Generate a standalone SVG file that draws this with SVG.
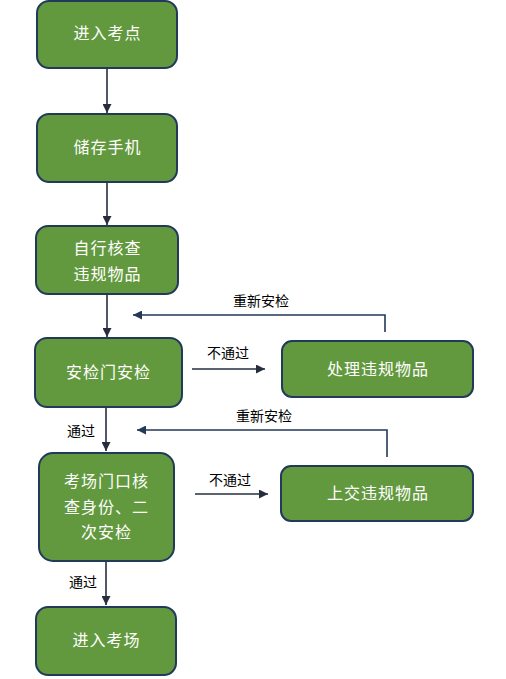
<svg xmlns="http://www.w3.org/2000/svg" width="506" height="679" viewBox="0 0 506 679">
<style>
.n{fill:#62993E;stroke:#22395A;stroke-width:2}
.t{font-family:"Noto Sans CJK SC","Liberation Sans",sans-serif;font-size:16px;letter-spacing:1px;fill:#ffffff;text-anchor:middle}
.l{font-family:"Noto Sans CJK SC","Liberation Sans",sans-serif;font-size:14px;fill:#000000;text-anchor:middle}
.c{fill:none;stroke:#262E3E;stroke-width:1.6}
.b{fill:none;stroke:#22395A;stroke-width:1.6}
</style>
<defs>
<marker id="a" viewBox="0 0 10 10" refX="10" refY="5" markerWidth="9" markerHeight="9" markerUnits="userSpaceOnUse" orient="auto">
<path d="M0,0 L10,5 L0,10 Z" fill="#262E3E"/>
</marker>
<marker id="ab" viewBox="0 0 10 10" refX="10" refY="5" markerWidth="9" markerHeight="9" markerUnits="userSpaceOnUse" orient="auto">
<path d="M0,0 L10,5 L0,10 Z" fill="#22395A"/>
</marker>
</defs>
<g id="connectors">
<line class="c" x1="107" y1="68" x2="107" y2="113" marker-end="url(#a)"/>
<line class="c" x1="107" y1="182" x2="107" y2="225" marker-end="url(#a)"/>
<line class="c" x1="107" y1="294" x2="107" y2="337" marker-end="url(#a)"/>
<line class="c" x1="192" y1="369" x2="265" y2="369" marker-end="url(#a)"/>
<polyline class="b" points="385,332 385,315 133,315" marker-end="url(#ab)"/>
<line class="c" x1="106" y1="407" x2="106" y2="451" marker-end="url(#a)"/>
<line class="c" x1="195" y1="494" x2="268" y2="494" marker-end="url(#a)"/>
<polyline class="b" points="387,457 387,430 137,430" marker-end="url(#ab)"/>
<line class="c" x1="106" y1="561" x2="106" y2="605" marker-end="url(#a)"/>
<text class="l" x="261" y="306">重新安检</text>
<text class="l" x="228" y="358">不通过</text>
<text class="l" x="81" y="436">通过</text>
<text class="l" x="264" y="421">重新安检</text>
<text class="l" x="230" y="485">不通过</text>
<text class="l" x="83" y="587">通过</text>
</g>
<g id="n1"><rect class="n" x="37" y="1" width="140" height="67" rx="12"/><text class="t" x="107.5" y="39">进入考点</text></g>
<g id="n2"><rect class="n" x="37" y="114" width="140" height="68" rx="12"/><text class="t" x="107.5" y="153">储存手机</text></g>
<g id="n3"><rect class="n" x="36" y="226" width="142" height="68" rx="12"/><text class="t" x="107.5" y="254">自行核查</text><text class="t" x="107.5" y="280">违规物品</text></g>
<g id="n4"><rect class="n" x="35" y="338" width="147" height="69" rx="12"/><text class="t" x="108.5" y="378">安检门安检</text></g>
<g id="n5"><rect class="n" x="282" y="341" width="191" height="56" rx="10"/><text class="t" x="378" y="375">处理违规物品</text></g>
<g id="n6"><rect class="n" x="39" y="453" width="135" height="108" rx="14"/><text class="t" x="106.5" y="487">考场门口核</text><text class="t" x="106.5" y="513">查身份、二</text><text class="t" x="106.5" y="538">次安检</text></g>
<g id="n7"><rect class="n" x="281" y="466" width="192" height="55" rx="10"/><text class="t" x="378" y="499">上交违规物品</text></g>
<g id="n8"><rect class="n" x="36" y="607" width="140" height="68" rx="12"/><text class="t" x="106.5" y="646">进入考场</text></g>
</svg>
